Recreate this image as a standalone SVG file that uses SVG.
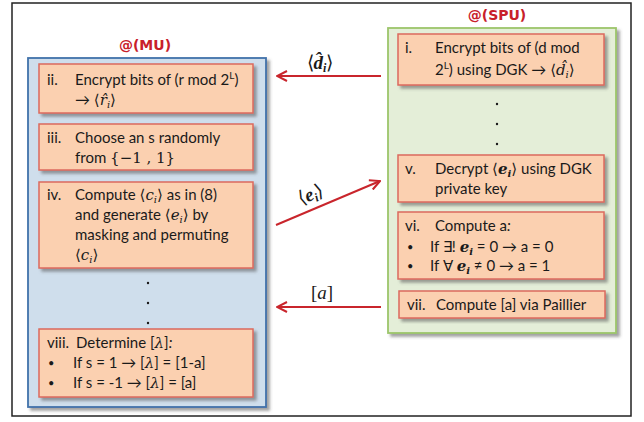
<svg xmlns="http://www.w3.org/2000/svg" width="644" height="422" viewBox="0 0 644 422">
  <defs>
    <filter id="sh" x="-10%" y="-10%" width="125%" height="130%">
      <feDropShadow dx="3" dy="3" stdDeviation="1.5" flood-color="#555" flood-opacity="0.55"/>
    </filter>
    <marker id="arr" viewBox="0 0 12 12" refX="11" refY="6" markerWidth="12" markerHeight="12" markerUnits="userSpaceOnUse" orient="auto">
      <path d="M1,1 L11,6 L1,11" fill="none" stroke="#c9252c" stroke-width="2"/>
    </marker>
    <style>
      .frame { fill: #ffffff; stroke: #222; stroke-width: 1.5; }
      .mu { fill: #cfdeec; stroke: #4272aa; stroke-width: 1.8; filter: url(#sh); }
      .spu { fill: #e4eed8; stroke: #9cc56b; stroke-width: 1.8; filter: url(#sh); }
      .box { fill: #fbd0b0; stroke: #dc6a5e; stroke-width: 1.5; filter: url(#sh); }
      .t { font-family: Lato, "Liberation Sans", sans-serif; font-size: 15px; fill: #1a1a1a; }
      .b { font-size: 11px; }
      .m { font-family: "DejaVu Serif", "Liberation Serif", serif; font-style: italic; }
      .mb { font-family: "DejaVu Serif", "Liberation Serif", serif; font-style: italic; font-weight: bold; }
      .s { font-family: "DejaVu Serif", "Liberation Serif", serif; }
      .title { font-family: "DejaVu Sans", sans-serif; font-weight: bold; font-size: 14px; fill: #c8202a; text-anchor: middle; }
      .dot { fill: #1a1a1a; }
      .link { stroke: #c9252c; stroke-width: 2; fill: none; marker-end: url(#arr); }
      .lbl { font-family: "Liberation Serif", serif; font-size: 19px; fill: #1a1a1a; text-anchor: middle; }
      .li { font-style: italic; font-weight: bold; }
    </style>
  </defs>

  <rect class="frame" x="12" y="3" width="619" height="413"/>

  <!-- MU party -->
  <g id="mu">
    <text class="title" x="145" y="50">@(MU)</text>
    <rect class="mu" x="28" y="58" width="238" height="349"/>
    <circle class="dot" cx="148" cy="283" r="1.2"/>
    <circle class="dot" cx="148" cy="303" r="1.2"/>
    <circle class="dot" cx="148" cy="323" r="1.2"/>
  </g>

  <g id="step-ii">
    <rect class="box" x="39" y="64" width="214" height="49"/>
    <text class="t" x="47" y="85">ii.</text>
    <text class="t" x="75" y="85">Encrypt bits of (r mod 2<tspan font-size="10" dy="-6">L</tspan><tspan dy="6">)</tspan></text>
    <text class="t" x="75" y="105">→ <tspan class="s">⟨</tspan><tspan class="m">r̂</tspan><tspan class="m" font-size="10" dy="3">i</tspan><tspan class="s" dy="-3">⟩</tspan></text>
  </g>

  <g id="step-iii">
    <rect class="box" x="39" y="124" width="214" height="46"/>
    <text class="t" x="47" y="143">iii.</text>
    <text class="t" x="75" y="143">Choose an s randomly</text>
    <text class="t" x="75" y="163">from <tspan class="s">{−1 , 1}</tspan></text>
  </g>

  <g id="step-iv">
    <rect class="box" x="39" y="182" width="214" height="86"/>
    <text class="t" x="47" y="200">iv.</text>
    <text class="t" x="75" y="200">Compute <tspan class="s">⟨</tspan><tspan class="m">c</tspan><tspan class="m" font-size="10" dy="3">i</tspan><tspan class="s" dy="-3">⟩</tspan> as in (8)</text>
    <text class="t" x="75" y="220">and generate <tspan class="s">⟨</tspan><tspan class="m">e</tspan><tspan class="m" font-size="10" dy="3">i</tspan><tspan class="s" dy="-3">⟩</tspan> by</text>
    <text class="t" x="75" y="240">masking and permuting</text>
    <text class="t" x="75" y="260"><tspan class="s">⟨</tspan><tspan class="m">c</tspan><tspan class="m" font-size="10" dy="3">i</tspan><tspan class="s" dy="-3">⟩</tspan></text>
  </g>

  <g id="step-viii">
    <rect class="box" x="39" y="329" width="214" height="68"/>
    <text class="t" x="47" y="348">viii.</text>
    <text class="t" x="76" y="348">Determine [<tspan class="m">λ</tspan>]<tspan font-style="italic">:</tspan></text>
    <text class="t b" x="48" y="367">•</text>
    <text class="t" x="73" y="368">If s = 1 → [<tspan class="m">λ</tspan>] = [1-a]</text>
    <text class="t b" x="48" y="387">•</text>
    <text class="t" x="73" y="388">If s = -1 → [<tspan class="m">λ</tspan>] = [a]</text>
  </g>

  <!-- SPU party -->
  <g id="spu">
    <text class="title" x="497" y="20">@(SPU)</text>
    <rect class="spu" x="388" y="28" width="228" height="305"/>
    <circle class="dot" cx="497" cy="104" r="1.2"/>
    <circle class="dot" cx="497" cy="124" r="1.2"/>
    <circle class="dot" cx="497" cy="144" r="1.2"/>
  </g>

  <g id="step-i">
    <rect class="box" x="398" y="34" width="206" height="51"/>
    <text class="t" x="405" y="53">i.</text>
    <text class="t" x="435" y="53">Encrypt bits of  (d mod</text>
    <text class="t" x="435" y="75">2<tspan font-size="10" dy="-6">L</tspan><tspan dy="6">) using DGK → </tspan><tspan class="s">⟨</tspan><tspan class="m">d̂</tspan><tspan class="m" font-size="10" dy="3">i</tspan><tspan class="s" dy="-3">⟩</tspan></text>
  </g>

  <g id="step-v">
    <rect class="box" x="398" y="155" width="206" height="47"/>
    <text class="t" x="405" y="174">v.</text>
    <text class="t" x="435" y="174">Decrypt <tspan class="s">⟨</tspan><tspan class="mb">e</tspan><tspan class="mb" font-size="10" dy="3">i</tspan><tspan class="s" dy="-3">⟩</tspan> using DGK</text>
    <text class="t" x="435" y="194">private key</text>
  </g>

  <g id="step-vi">
    <rect class="box" x="398" y="212" width="206" height="67"/>
    <text class="t" x="405" y="231">vi.</text>
    <text class="t" x="435" y="231">Compute  a<tspan font-style="italic">:</tspan></text>
    <text class="t b" x="407" y="251">•</text>
    <text class="t" x="430" y="252">If ∃! <tspan class="mb">e</tspan><tspan class="mb" font-size="10" dy="3">i</tspan><tspan dy="-3"> = 0 → a = 0</tspan></text>
    <text class="t b" x="407" y="270">•</text>
    <text class="t" x="430" y="271">If ∀  <tspan class="mb">e</tspan><tspan class="mb" font-size="10" dy="3">i</tspan><tspan dy="-3"> ≠ 0 → a = 1</tspan></text>
  </g>

  <g id="step-vii">
    <rect class="box" x="399" y="291" width="206" height="27"/>
    <text class="t" x="407" y="310">vii.</text>
    <text class="t" x="436" y="310">Compute [a] via Paillier</text>
  </g>

  <!-- messages exchanged between the parties -->
  <g id="connectors">
    <line class="link" x1="381" y1="76" x2="277" y2="76"/>
    <text class="lbl" x="320" y="69">⟨<tspan class="li">d̂</tspan><tspan class="li" font-size="12" dy="3">i</tspan><tspan dy="-3">⟩</tspan></text>

    <line class="link" x1="276" y1="225" x2="380" y2="181"/>
    <text class="lbl" transform="translate(313,200) rotate(-23)">⟨<tspan class="li">e</tspan><tspan class="li" font-size="12" dy="3">i</tspan><tspan dy="-3">⟩</tspan></text>

    <line class="link" x1="381" y1="307" x2="277" y2="307"/>
    <text class="lbl" x="322" y="299">[<tspan font-style="italic">a</tspan>]</text>
  </g>
</svg>
